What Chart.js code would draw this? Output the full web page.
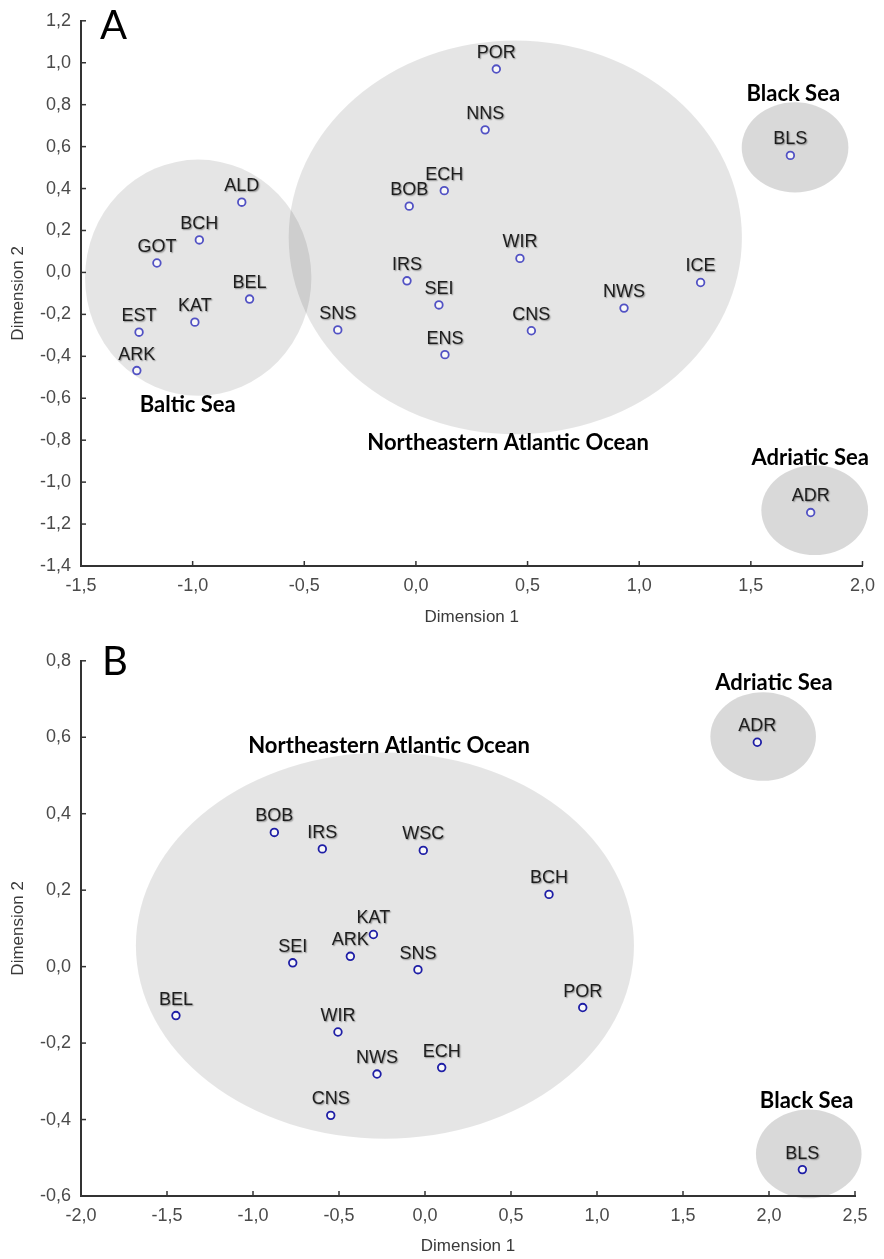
<!DOCTYPE html>
<html>
<head>
<meta charset="utf-8">
<script src="https://cdn.jsdelivr.net/npm/chart.js@4.4.0/dist/chart.umd.min.js"></script>
<style>
  html, body { margin: 0; padding: 0; background: #fff; }
  #wrap { position: relative; width: 884px; height: 1259px; overflow: hidden; }
  canvas { position: absolute; left: 0; }
  .letter { position: absolute; font-family: Lato, sans-serif; font-size: 40px; color: #000; line-height: 1; }
</style>
</head>
<body>
<div id="wrap">
  <canvas id="chartA" width="884" height="640" style="top:0"></canvas>
  <canvas id="chartB" width="884" height="619" style="top:640px"></canvas>
  <div class="letter" style="left:100px;top:4px">A</div>
  <div class="letter" style="left:102px;top:640px">B</div>
</div>
<script>
// --- panel A data ---
const sitesA = ['ALD', 'BCH', 'GOT', 'BEL', 'KAT', 'EST', 'ARK', 'POR', 'NNS', 'ECH', 'BOB',
                'WIR', 'IRS', 'SEI', 'SNS', 'CNS', 'ENS', 'NWS', 'ICE', 'BLS', 'ADR'];
const dim1A = [-0.78, -0.97, -1.16, -0.745, -0.99, -1.24, -1.25, 0.36, 0.31, 0.127, -0.03,
               0.466, -0.04, 0.103, -0.35, 0.517, 0.13, 0.932, 1.275, 1.677, 1.768];
const dim2A = [0.335, 0.155, 0.045, -0.127, -0.237, -0.285, -0.468, 0.97, 0.68, 0.39, 0.316,
               0.067, -0.04, -0.155, -0.274, -0.278, -0.392, -0.17, -0.048, 0.558, -1.145];

const groupsA = ['Baltic Sea', 'Northeastern Atlantic Ocean', 'Black Sea', 'Adriatic Sea'];
const groupCxA = [-0.975, 0.445, 1.698, 1.786];
const groupCyA = [-0.025, 0.167, 0.596, -1.134];
const groupRxA = [0.507, 1.015, 0.239, 0.239];
const groupRyA = [0.563, 0.939, 0.215, 0.214];
const groupLabelXA = [-1.022, 0.413, 1.690, 1.766];
const groupLabelYA = [-0.630, -0.814, 0.850, -0.885];

// --- panel B data ---
const sitesB = ['BOB', 'IRS', 'WSC', 'BCH', 'KAT', 'ARK', 'SEI', 'SNS', 'BEL', 'WIR',
                'NWS', 'CNS', 'ECH', 'POR', 'ADR', 'BLS'];
const dim1B = [-0.876, -0.597, -0.010, 0.721, -0.300, -0.434, -0.769, -0.041, -1.448, -0.506,
               -0.279, -0.548, 0.097, 0.917, 1.932, 2.194];
const dim2B = [0.351, 0.308, 0.304, 0.189, 0.084, 0.027, 0.010, -0.008, -0.128, -0.171,
               -0.281, -0.389, -0.264, -0.107, 0.587, -0.531];

const groupsB = ['Northeastern Atlantic Ocean', 'Adriatic Sea', 'Black Sea'];
const groupCxB = [-0.233, 1.966, 2.231];
const groupCyB = [0.055, 0.602, -0.490];
const groupRxB = [1.448, 0.307, 0.307];
const groupRyB = [0.505, 0.116, 0.116];
const groupLabelXB = [-0.209, 2.029, 2.219];
const groupLabelYB = [0.578, 0.741, -0.352];

function comma(v) {
    if (Math.abs(v) < 1e-9) v = 0;
    return v.toFixed(1).replace('.', ',');
}

const tickFont = { family: 'Liberation Sans, Arial, sans-serif', size: 18 };
const titleFont = { family: 'Liberation Sans, Arial, sans-serif', size: 17 };

// grey regions behind the points
const regionPlugin = {
    id: 'regions',
    beforeDraw(chart, args, opts) {
        const ctx = chart.ctx;
        const x = chart.scales.x, y = chart.scales.y;
        ctx.save();
        for (let i = 0; i < opts.cx.length; i++) {
            const px = x.getPixelForValue(opts.cx[i]);
            const py = y.getPixelForValue(opts.cy[i]);
            const rx = Math.abs(x.getPixelForValue(opts.cx[i] + opts.rx[i]) - px);
            const ry = Math.abs(y.getPixelForValue(opts.cy[i] + opts.ry[i]) - py);
            ctx.beginPath();
            ctx.ellipse(px, py, rx, ry, 0, 0, Math.PI * 2);
            ctx.fillStyle = opts.rx[i] > 0.4 ? 'rgba(0,0,0,0.10)' : 'rgba(0,0,0,0.15)';
            ctx.fill();
        }
        ctx.restore();
    },
    afterDatasetsDraw(chart, args, opts) {
        const ctx = chart.ctx;
        const x = chart.scales.x, y = chart.scales.y;
        ctx.save();
        // group names
        ctx.font = 'bold 22px Lato, sans-serif';
        ctx.fillStyle = '#000';
        ctx.textAlign = 'center';
        ctx.textBaseline = 'middle';
        for (let i = 0; i < opts.names.length; i++) {
            ctx.fillText(opts.names[i], x.getPixelForValue(opts.lx[i]), y.getPixelForValue(opts.ly[i]));
        }
        // site labels above each point
        ctx.font = '18px "Liberation Sans", Arial, sans-serif';
        ctx.fillStyle = '#1e1e1e';
        ctx.shadowColor = 'rgba(0,0,0,0.4)';
        ctx.shadowBlur = 1.5;
        ctx.shadowOffsetX = 1;
        ctx.shadowOffsetY = 1;
        const meta = chart.getDatasetMeta(0);
        meta.data.forEach(function (pt, i) {
            ctx.fillText(opts.sites[i], pt.x, pt.y - 16);
        });
        ctx.restore();
    },
    afterDraw(chart) {
        // small inward tick marks
        const ctx = chart.ctx;
        const area = chart.chartArea;
        const x = chart.scales.x, y = chart.scales.y;
        ctx.save();
        ctx.strokeStyle = '#333';
        ctx.lineWidth = 1.5;
        x.ticks.forEach(function (t, i) {
            const px = x.getPixelForTick(i);
            ctx.beginPath();
            ctx.moveTo(px, area.bottom);
            ctx.lineTo(px, area.bottom - 5);
            ctx.stroke();
        });
        y.ticks.forEach(function (t, i) {
            const py = y.getPixelForTick(i);
            ctx.beginPath();
            ctx.moveTo(area.left, py);
            ctx.lineTo(area.left + 5, py);
            ctx.stroke();
        });
        ctx.restore();
    }
};

function makeChart(id, cfg) {
    const points = cfg.dim1.map(function (v, i) { return { x: v, y: cfg.dim2[i] }; });
    return new Chart(document.getElementById(id).getContext('2d'), {
        type: 'scatter',
        data: {
            datasets: [{
                data: points,
                pointStyle: 'circle',
                pointRadius: 3.8,
                pointBorderWidth: 1.8,
                borderColor: cfg.pointColor,
                backgroundColor: 'rgba(255,255,255,0.7)'
            }]
        },
        options: {
            responsive: false,
            animation: false,
            layout: { padding: { top: cfg.padTop, right: cfg.padRight, left: 0, bottom: 0 } },
            plugins: {
                legend: { display: false },
                tooltip: { enabled: false },
                regions: {
                    cx: cfg.cx, cy: cfg.cy, rx: cfg.rx, ry: cfg.ry,
                    names: cfg.names, lx: cfg.lx, ly: cfg.ly, sites: cfg.sites
                }
            },
            scales: {
                x: {
                    type: 'linear',
                    min: cfg.xMin, max: cfg.xMax,
                    ticks: { stepSize: 0.5, callback: comma, color: '#4a4a4a', font: tickFont, padding: 9, maxRotation: 0, autoSkip: false },
                    grid: { drawOnChartArea: false, drawTicks: false },
                    border: { color: '#333', width: 2 },
                    title: { display: true, text: 'Dimension 1', color: '#3a3a3a', font: titleFont, padding: { top: 0, bottom: cfg.xTitlePad } },
                    afterFit: function (s) { s.height = cfg.xHeight; }
                },
                y: {
                    type: 'linear',
                    min: cfg.yMin, max: cfg.yMax,
                    ticks: { stepSize: 0.2, callback: comma, color: '#4a4a4a', font: tickFont, padding: 10, autoSkip: false },
                    grid: { drawOnChartArea: false, drawTicks: false },
                    border: { color: '#333', width: 2 },
                    title: { display: true, text: 'Dimension 2', color: '#3a3a3a', font: titleFont, padding: { top: 8, bottom: 0 } },
                    afterFit: function (s) { s.width = 81; }
                }
            }
        },
        plugins: [regionPlugin]
    });
}

makeChart('chartA', {
    dim1: dim1A, dim2: dim2A, sites: sitesA, pointColor: '#5252c4',
    cx: groupCxA, cy: groupCyA, rx: groupRxA, ry: groupRyA,
    names: groupsA, lx: groupLabelXA, ly: groupLabelYA,
    xMin: -1.5, xMax: 2.0, yMin: -1.4, yMax: 1.2,
    padTop: 16, padRight: 20, xHeight: 74, xTitlePad: 12
});

makeChart('chartB', {
    dim1: dim1B, dim2: dim2B, sites: sitesB, pointColor: '#1f1fa6',
    cx: groupCxB, cy: groupCyB, rx: groupRxB, ry: groupRyB,
    names: groupsB, lx: groupLabelXB, ly: groupLabelYB,
    xMin: -2.0, xMax: 2.5, yMin: -0.6, yMax: 0.8,
    padTop: 14, padRight: 29, xHeight: 63, xTitlePad: 2
});
</script>
</body>
</html>
